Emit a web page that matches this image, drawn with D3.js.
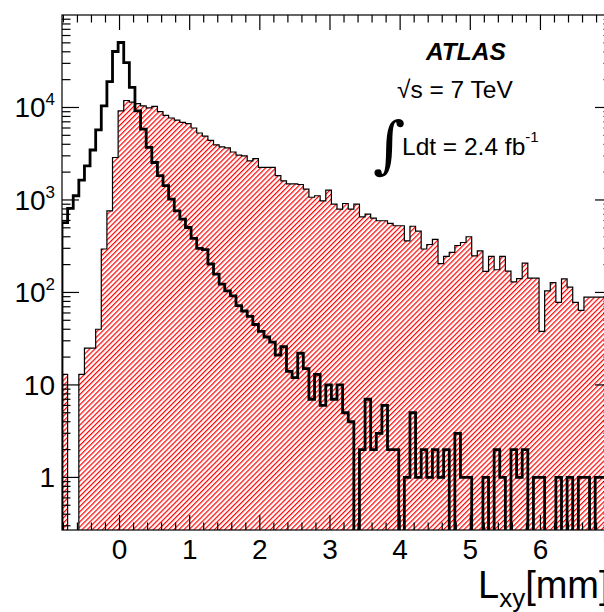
<html>
<head>
<meta charset="utf-8">
<title>Lxy</title>
<style>
  body { margin: 0; background: #fff; }
  text { font-family: "Liberation Sans", Arial, sans-serif; }
</style>
</head>
<body>
<svg width="604" height="612"></svg>
<script src="https://d3js.org/d3.v7.min.js"></script>
<script>

// histogram binning (mm)
var binStart = -0.82;
var binWidth = 0.08;

// red hatched histogram, counts per bin
var nonPrompt = [13, 0, 0, 13, 25, 25, 40, 295, 764, 2880,
  9200, 11900, 11400, 11000, 10400, 9900, 10300, 9000, 8200, 7700,
  7300, 6900, 6700, 6000, 5300, 4900, 4400, 3950, 3750, 3650,
  3300, 3050, 3000, 2650, 2800, 2250, 2250, 2250, 1830, 1610,
  1490, 1490, 1470, 1310, 1070, 1110, 980, 1280, 903, 797,
  916, 797, 903, 658, 704, 637, 596, 596, 557, 526,
  526, 362, 520, 460, 295, 330, 375, 205, 245, 271,
  322, 347, 400, 249, 282, 169, 246, 176, 246, 170,
  130, 141, 208, 143, 143, 38, 104, 128, 78, 140,
  114, 78, 64, 89, 89, 89, 89, 89];

// thick black histogram, counts per bin
var prompt = [570, 810, 1110, 1640, 2340, 3470, 5740, 10400, 19000, 40300,
  50400, 30600, 16500, 9200, 5840, 3700, 2540, 1830, 1430, 1020,
  764, 621, 504, 384, 300, 290, 203, 158, 123, 104,
  92, 72, 63, 55, 45, 38, 33, 29, 21, 26,
  14, 12, 22, 15, 7, 13, 6, 10, 7, 10,
  5, 4, 0, 2, 7, 2, 3, 6, 2, 2,
  0, 1, 5, 1, 2, 1, 2, 1, 2, 0,
  3, 1, 1, 0, 0, 1, 0, 2, 1, 0,
  2, 1, 2, 0, 1, 1, 0, 0, 1, 0,
  1, 0, 1, 1, 0, 1, 1, 0];

var xMajor = [0, 1, 2, 3, 4, 5, 6, 7];
var xLabels = ["0", "1", "2", "3", "4", "5", "6", "7"];
var yMajor = [1, 10, 100, 1000, 10000];
var yLabelBase = ["1", "10", "10", "10", "10"];
var yLabelExp = ["", "", "2", "3", "4"];

var svg = d3.select('svg');

// frame edges (note: "top" is taken by window.top)
var fLeft = 62, fRight = 612, fTop = 15, fBottom = 530;
var x = d3.scaleLinear().domain([-0.82, 7.02]).range([fLeft, fRight]);
var y = d3.scaleLog().domain([0.27, 1e5]).range([fBottom, fTop]);

var defs = svg.append('defs');
defs.append('clipPath').attr('id', 'frame')
  .append('rect').attr('x', fLeft).attr('y', fTop)
  .attr('width', fRight - fLeft).attr('height', fBottom - fTop);

var pat = defs.append('pattern')
  .attr('id', 'hatch')
  .attr('patternUnits', 'userSpaceOnUse')
  .attr('width', 3.6).attr('height', 3.6)
  .attr('patternTransform', 'rotate(45)');
pat.append('rect').attr('x', 0).attr('y', 0).attr('width', 3.6).attr('height', 3.6).attr('fill', 'white');
pat.append('rect').attr('x', 0).attr('y', 0).attr('width', 1.2).attr('height', 3.6).attr('fill', '#ff0000');

function stepPath(counts) {
  var low = fBottom + 10;
  var p = d3.path();
  p.moveTo(x(binStart), low);
  counts.forEach(function(c, i) {
    var yy = c > 0 ? y(c) : low;
    p.lineTo(x(binStart + i * binWidth), yy);
    p.lineTo(x(binStart + (i + 1) * binWidth), yy);
  });
  p.lineTo(x(binStart + counts.length * binWidth), low);
  return p.toString();
}

var plot = svg.append('g').attr('clip-path', 'url(#frame)');

plot.append('path')
  .attr('d', stepPath(nonPrompt) + 'Z')
  .attr('fill', 'url(#hatch)')
  .attr('stroke', 'black')
  .attr('stroke-width', 1.2);

plot.append('path')
  .attr('d', stepPath(prompt))
  .attr('fill', 'none')
  .attr('stroke', 'black')
  .attr('stroke-width', 2.8)
  .attr('stroke-linejoin', 'miter');

// frame
svg.append('rect')
  .attr('x', fLeft).attr('y', fTop)
  .attr('width', fRight - fLeft).attr('height', fBottom - fTop)
  .attr('fill', 'none').attr('stroke', 'black').attr('stroke-width', 1.2);

// x ticks (bottom and top)
var xMinor = d3.range(-4, 36).map(function(i) { return i * 0.2; })
  .filter(function(v) { return v >= -0.82 && v <= 7.02 && Math.abs(v - Math.round(v)) > 0.01; });

var axes = svg.append('g').attr('stroke', 'black').attr('stroke-width', 1.2);
xMajor.forEach(function(v) {
  axes.append('line').attr('x1', x(v)).attr('x2', x(v)).attr('y1', fBottom).attr('y2', fBottom - 15);
  axes.append('line').attr('x1', x(v)).attr('x2', x(v)).attr('y1', fTop).attr('y2', fTop + 15);
});
xMinor.forEach(function(v) {
  axes.append('line').attr('x1', x(v)).attr('x2', x(v)).attr('y1', fBottom).attr('y2', fBottom - 7.5);
  axes.append('line').attr('x1', x(v)).attr('x2', x(v)).attr('y1', fTop).attr('y2', fTop + 7.5);
});

// y ticks (left and right)
var yMinor = [];
[-1, 0, 1, 2, 3, 4].forEach(function(d) {
  for (var m = 2; m <= 9; m++) {
    var v = m * Math.pow(10, d);
    if (v >= 0.27 && v <= 1e5) yMinor.push(v);
  }
});
yMajor.forEach(function(v) {
  axes.append('line').attr('x1', fLeft).attr('x2', fLeft + 17).attr('y1', y(v)).attr('y2', y(v));
  axes.append('line').attr('x1', fRight).attr('x2', fRight - 17).attr('y1', y(v)).attr('y2', y(v));
});
yMinor.forEach(function(v) {
  axes.append('line').attr('x1', fLeft).attr('x2', fLeft + 8.5).attr('y1', y(v)).attr('y2', y(v));
  axes.append('line').attr('x1', fRight).attr('x2', fRight - 8.5).attr('y1', y(v)).attr('y2', y(v));
});

// tick labels
svg.selectAll('.xlab')
  .data(xMajor)
  .enter()
  .append('text')
  .attr('x', function(d) { return x(d); })
  .attr('y', 559)
  .attr('text-anchor', 'middle')
  .attr('font-size', '28px')
  .text(function(d, i) { return xLabels[i]; });

var ylab = svg.selectAll('.ylab')
  .data(yMajor)
  .enter()
  .append('text')
  .attr('x', 55)
  .attr('y', function(d) { return y(d) + 10; })
  .attr('text-anchor', 'end')
  .attr('font-size', '28px');
ylab.append('tspan').text(function(d, i) { return yLabelBase[i]; });
ylab.append('tspan')
  .attr('font-size', '17px')
  .attr('dy', -12)
  .text(function(d, i) { return yLabelExp[i]; });

// axis title
var xt = svg.append('text').attr('x', 478).attr('y', 598).attr('font-size', '38px');
xt.append('tspan').text('L');
xt.append('tspan').attr('font-size', '26px').attr('dy', 9).text('xy');
xt.append('tspan').attr('dy', -9).text('[mm]');

// labels
svg.append('text').attr('x', 426).attr('y', 60)
  .attr('font-size', '24.5px').attr('font-weight', 'bold').attr('font-style', 'italic')
  .text('ATLAS');

svg.append('text').attr('x', 397).attr('y', 98)
  .attr('font-size', '24.5px')
  .text('\u221As = 7 TeV');

svg.append('text').attr('x', 373).attr('y', 166)
  .attr('font-size', '62px').style('font-family', '"DejaVu Serif", serif')
  .text('\u222B');

var lum = svg.append('text').attr('x', 402).attr('y', 155).attr('font-size', '24.5px');
lum.append('tspan').text('Ldt = 2.4 fb');
lum.append('tspan').attr('font-size', '15px').attr('dy', -13).text('-1');

</script>
</body>
</html>
